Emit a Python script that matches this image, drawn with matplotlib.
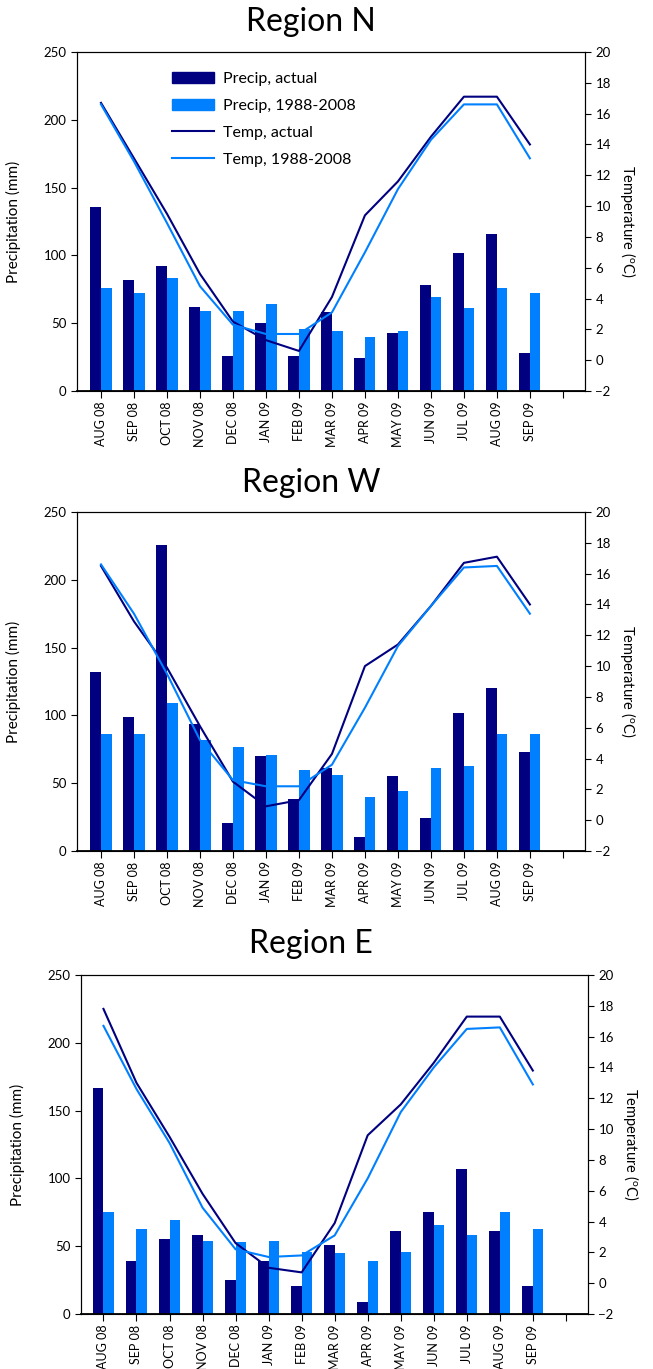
import matplotlib
matplotlib.use('Agg')
import matplotlib.pyplot as plt
import numpy as np
from matplotlib.patches import Patch
from matplotlib.lines import Line2D

plt.rcParams['font.family'] = ['Lato', 'DejaVu Sans']

months = ['AUG 08', 'SEP 08', 'OCT 08', 'NOV 08', 'DEC 08', 'JAN 09', 'FEB 09',
          'MAR 09', 'APR 09', 'MAY 09', 'JUN 09', 'JUL 09', 'AUG 09', 'SEP 09']

# Region N
precip_act_N = [136, 82, 92, 62, 26, 50, 26, 58, 24, 43, 78, 102, 116, 28]
precip_clim_N = [76, 72, 83, 59, 59, 64, 46, 44, 40, 44, 69, 61, 76, 72]
temp_act_N = [16.7, 13.1, 9.5, 5.6, 2.5, 1.3, 0.6, 4.1, 9.4, 11.6, 14.5, 17.1, 17.1, 14.0]
temp_clim_N = [16.6, 12.9, 8.9, 4.8, 2.3, 1.7, 1.7, 3.1, 7.0, 11.1, 14.3, 16.6, 16.6, 13.1]

# Region W
precip_act_W = [132, 99, 226, 94, 21, 70, 38, 61, 10, 55, 24, 102, 120, 73]
precip_clim_W = [86, 86, 109, 82, 77, 71, 60, 56, 40, 44, 61, 63, 86, 86]
temp_act_W = [16.5, 12.9, 9.9, 6.1, 2.5, 0.9, 1.3, 4.3, 10.0, 11.4, 13.9, 16.7, 17.1, 14.0]
temp_clim_W = [16.6, 13.4, 9.5, 5.2, 2.6, 2.2, 2.2, 3.6, 7.3, 11.3, 13.9, 16.4, 16.5, 13.4]

# Region E
precip_act_E = [167, 39, 55, 58, 25, 39, 21, 51, 9, 61, 75, 107, 61, 21]
precip_clim_E = [75, 63, 69, 54, 53, 54, 46, 45, 39, 46, 66, 58, 75, 63]
temp_act_E = [17.8, 13.0, 9.5, 5.8, 2.6, 1.0, 0.7, 3.9, 9.6, 11.6, 14.3, 17.3, 17.3, 13.8]
temp_clim_E = [16.7, 12.6, 9.1, 4.9, 2.2, 1.7, 1.8, 3.1, 6.8, 11.1, 14.0, 16.5, 16.6, 12.9]

DARK = '#000080'
LIGHT = '#0080FF'
W, H = 653, 1369

fig = plt.figure(figsize=(W / 100, H / 100), dpi=100)


def panel(title, box, title_y, pa, pc, ta, tc, legend=False):
    l, t, r, b = box
    ax = fig.add_axes([l / W, 1 - b / H, (r - l) / W, (b - t) / H])
    x = np.arange(len(months))
    bw = 0.32
    ax.bar(x - bw / 2, pa, bw, color=DARK, zorder=2)
    ax.bar(x + bw / 2, pc, bw, color=LIGHT, zorder=2)
    ax.set_xlim(-(101 - l) / 33.0 if l < 80 else -0.68, 14.67)
    ax.set_ylim(0, 250)
    ax.set_yticks(range(0, 251, 50))
    ax.set_xticks(range(len(months) + 1))
    ax.set_xticklabels(months + [''], rotation=90, fontsize=9)
    ax.tick_params(axis='y', labelsize=9.5, length=4, width=0.8)
    ax.tick_params(axis='x', length=5, width=0.8, pad=2.5)
    ax.set_ylabel('Precipitation (mm)', fontsize=11)
    ax.yaxis.set_label_coords(-0.11, 0.5)
    for s in ax.spines.values():
        s.set_linewidth(0.8)
    ax.spines['bottom'].set_linewidth(1.3)

    ax2 = ax.twinx()
    ax2.plot(x, ta, color=DARK, lw=1.5, zorder=3)
    ax2.plot(x, tc, color=LIGHT, lw=1.5, zorder=3)
    ax2.set_ylim(-2, 20)
    ax2.set_yticks(range(-2, 21, 2))
    ax2.tick_params(axis='y', labelsize=9.5, length=4, width=0.8)
    ax2.set_ylabel(r'Temperature ($\mathregular{^o}$C)', fontsize=10.5, rotation=270)
    ax2.yaxis.set_label_coords(1.105, 0.5)
    for s in ax2.spines.values():
        s.set_linewidth(0.8)

    fig.text(311 / W, 1 - title_y / H, title, fontsize=23, ha='center', va='center')

    if legend:
        handles = [Patch(color=DARK), Patch(color=LIGHT),
                   Line2D([], [], color=DARK, lw=1.5), Line2D([], [], color=LIGHT, lw=1.5)]
        labels = ['Precip, actual', 'Precip, 1988-2008', 'Temp, actual', 'Temp, 1988-2008']
        ax2.legend(handles, labels, loc='upper left', bbox_to_anchor=(0.187, 0.94),
                   frameon=False, fontsize=11.5, handlelength=2.6, handleheight=0.65,
                   handletextpad=0.6, labelspacing=0.8, borderpad=0, borderaxespad=0)


panel('Region N', (77, 52, 585, 391), 22, precip_act_N, precip_clim_N, temp_act_N, temp_clim_N, legend=True)
panel('Region W', (77, 512, 585, 851), 483, precip_act_W, precip_clim_W, temp_act_W, temp_clim_W)
panel('Region E', (81, 975, 588, 1314), 944, precip_act_E, precip_clim_E, temp_act_E, temp_clim_E)

fig.savefig('out.png', dpi=100, facecolor='white')
